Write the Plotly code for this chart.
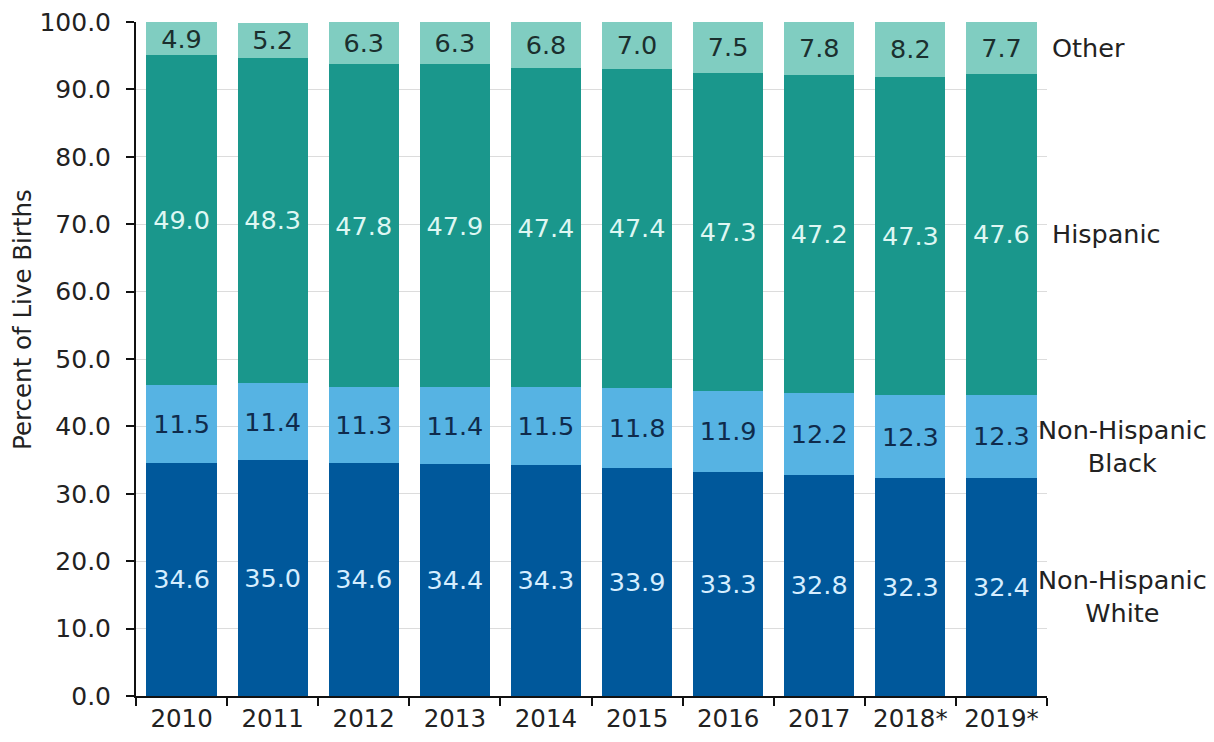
import plotly.graph_objects as go

# Share of live births by race/ethnicity, percent
years = ["2010", "2011", "2012", "2013", "2014", "2015", "2016", "2017", "2018*", "2019*"]
nh_white = [34.6, 35.0, 34.6, 34.4, 34.3, 33.9, 33.3, 32.8, 32.3, 32.4]
nh_black = [11.5, 11.4, 11.3, 11.4, 11.5, 11.8, 11.9, 12.2, 12.3, 12.3]
hispanic = [49.0, 48.3, 47.8, 47.9, 47.4, 47.4, 47.3, 47.2, 47.3, 47.6]
other = [4.9, 5.2, 6.3, 6.3, 6.8, 7.0, 7.5, 7.8, 8.2, 7.7]
y_ticks = [0, 10, 20, 30, 40, 50, 60, 70, 80, 90, 100]

FONT = "DejaVu Sans"

series = [
    ("Non-Hispanic<br>White", nh_white, "#00589b", "#d6eeff"),
    ("Non-Hispanic<br>Black", nh_black, "#56b3e3", "#0f2b4c"),
    ("Hispanic", hispanic, "#1a978c", "#def7f3"),
    ("Other", other, "#80cdc1", "#1b2f2e"),
]

fig = go.Figure()
for name, vals, color, tcolor in series:
    fig.add_trace(go.Bar(
        x=years, y=vals, name=name,
        marker=dict(color=color, line=dict(width=0)),
        text=[f"{v:.1f}" for v in vals],
        textposition="inside", insidetextanchor="middle",
        textfont=dict(family=FONT, size=25.5, color=tcolor),
        hoverinfo="skip",
    ))

# Series names to the right of the last bar, at each segment's midpoint
annotations = []
base = 0.0
for name, vals, color, tcolor in series:
    mid = base + vals[-1] / 2
    base += vals[-1]
    two_line = "<br>" in name
    annotations.append(dict(
        x=1.0834 if two_line else 1.0033, xref="paper",
        y=mid, yref="y",
        xanchor="center" if two_line else "left", yanchor="middle",
        yshift=-10 if two_line else 0,
        text=name, showarrow=False, align="center",
        font=dict(family=FONT, size=25.5, color="#222222"),
    ))

annotations.append(dict(
    x=-0.124, xref="paper", y=0.558, yref="paper",
    text="Percent of Live Births", textangle=-90, showarrow=False,
    xanchor="center", yanchor="middle",
    font=dict(family=FONT, size=24.5, color="#222222"),
))

fig.update_layout(
    barmode="stack",
    bargap=0.23,
    width=1214, height=742,
    margin=dict(l=136, r=167, t=22, b=46),
    paper_bgcolor="white", plot_bgcolor="white",
    showlegend=False,
    uniformtext=dict(minsize=25, mode="show"),
    annotations=annotations,
    font=dict(family=FONT, color="#222222"),
)
fig.update_xaxes(
    automargin=False,
    showline=True, linecolor="#111111", linewidth=2,
    ticks="outside", tickson="boundaries", ticklen=8, tickwidth=2, tickcolor="#111111",
    tickfont=dict(family=FONT, size=24.5, color="#222222"),
    showgrid=False,
)
fig.update_yaxes(
    automargin=False,
    range=[0, 100], tickvals=y_ticks, tickformat=".1f",
    showline=True, linecolor="#111111", linewidth=2,
    ticks="outside", ticklen=8, tickwidth=2, tickcolor="#111111",
    ticklabelstandoff=10,
    tickfont=dict(family=FONT, size=25, color="#222222"),
    showgrid=True, gridcolor="#dcdcdc", gridwidth=1,
    zeroline=False,
)

fig.write_html("out.html")
